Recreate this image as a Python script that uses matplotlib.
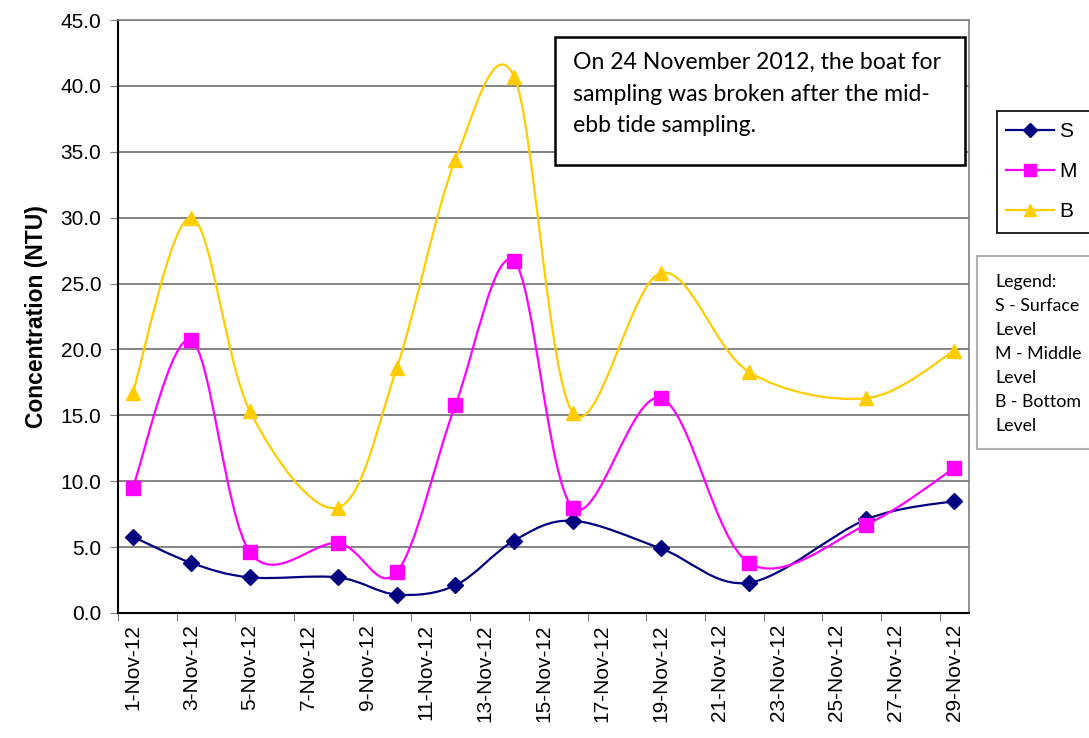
import numpy as np
import pandas as pd
import matplotlib
matplotlib.use("Agg")
import matplotlib.pyplot as plt
import matplotlib.dates as mdates
from matplotlib.patches import Rectangle
from matplotlib.path import Path
from matplotlib.patches import PathPatch

# ---- data ----
dates = ["1-Nov-12", "3-Nov-12", "5-Nov-12", "8-Nov-12", "10-Nov-12", "12-Nov-12",
         "14-Nov-12", "16-Nov-12", "19-Nov-12", "22-Nov-12", "26-Nov-12", "29-Nov-12"]
surface = [5.8, 3.8, 2.7, 2.7, 1.4, 2.1, 5.5, 7.0, 4.9, 2.3, 7.1, 8.5]
middle = [9.5, 20.7, 4.6, 5.3, 3.1, 15.8, 26.7, 8.0, 16.3, 3.8, 6.7, 11.0]
bottom = [16.7, 30.0, 15.3, 8.0, 18.6, 34.4, 40.7, 15.2, 25.8, 18.3, 16.3, 19.9]
series_names = ["S", "M", "B"]
y_ticks = [0, 5, 10, 15, 20, 25, 30, 35, 40, 45]
note = "On 24 November 2012, the boat for\nsampling was broken after the mid-\nebb tide sampling."
legend_note = ["Legend:", "S - Surface", "Level", "M - Middle", "Level", "B - Bottom", "Level"]

colors = ["#000080", "#FF00FF", "#FFCC00"]
markers = ["D", "s", "^"]
msizes = [8, 9.5, 10]

x = mdates.date2num(pd.to_datetime(dates, format="%d-%b-%y"))

fig = plt.figure(figsize=(10.89, 7.38), dpi=100)
ax = fig.add_axes([118/1089, 1-613/738, (969-118)/1089, (613-20)/738])

def smooth_path(xs, ys):
    xs = np.asarray(xs, float); ys = np.asarray(ys, float)
    n = len(xs)
    verts = [(xs[0], ys[0])]
    codes = [Path.MOVETO]
    for i in range(n-1):
        p0 = np.array([xs[max(i-1, 0)], ys[max(i-1, 0)]])
        p1 = np.array([xs[i], ys[i]])
        p2 = np.array([xs[i+1], ys[i+1]])
        p3 = np.array([xs[min(i+2, n-1)], ys[min(i+2, n-1)]])
        c1 = p1 + (p2 - p0) / 6.0
        c2 = p2 - (p3 - p1) / 6.0
        verts += [tuple(c1), tuple(c2), tuple(p2)]
        codes += [Path.CURVE4] * 3
    return Path(verts, codes)

handles = []
for vals, c, m, ms, name in zip([surface, middle, bottom], colors, markers, msizes, series_names):
    pp = PathPatch(smooth_path(x, vals), facecolor="none", edgecolor=c, lw=1.6, zorder=3)
    ax.add_patch(pp)
    ax.plot(x, vals, linestyle="none", marker=m, ms=ms, color=c, zorder=4)
    h, = ax.plot([], [], color=c, lw=1.6, marker=m, ms=ms * 0.85, label=name)
    handles.append(h)

x0 = mdates.date2num(pd.Timestamp("2012-11-01"))
ax.set_xlim(x0 - 0.5, x0 + 28.5)
ax.set_ylim(0, 45)
ax.set_yticks(y_ticks)
ax.set_yticklabels([f"{v:.1f}" for v in y_ticks])
ax.yaxis.grid(True, color="#707070", lw=1.2)
ax.set_axisbelow(True)

# major ticks (marks only) at slot boundaries, minor ticks carry labels
ax.set_xticks(x0 - 0.5 + 2 * np.arange(15))
ax.set_xticklabels([])
lab_pos = x0 + 2 * np.arange(15)
ax.set_xticks(lab_pos, minor=True)
ax.set_xticklabels([pd.Timestamp(mdates.num2date(v)).strftime("%-d-%b-%y") for v in lab_pos],
                   minor=True, rotation=90)
ax.tick_params(axis="x", which="minor", length=0, pad=8)
ax.tick_params(axis="x", which="major", length=6, color="#7f7f7f")
ax.tick_params(axis="y", length=6, color="#7f7f7f", pad=6)
for lab in ax.get_xticklabels(minor=True) + ax.get_yticklabels():
    lab.set_fontfamily("Liberation Sans")
    lab.set_fontsize(15)

for s in ["left", "bottom"]:
    ax.spines[s].set_color("black"); ax.spines[s].set_linewidth(1.5)
for s in ["top", "right"]:
    ax.spines[s].set_color("#7f7f7f"); ax.spines[s].set_linewidth(1.2)

ax.set_ylabel("Concentration (NTU)", fontfamily="Liberation Sans", fontsize=16.5,
              fontweight="bold", labelpad=9)

# annotation box
fig.patches.append(Rectangle((555/1089, 1-165/738), 410/1089, 128/738, transform=fig.transFigure,
                             facecolor="white", edgecolor="black", lw=1.8, zorder=5))
fig.text(573/1089, 1-52/738, note, fontfamily="Lato", fontsize=16.6, va="top", ha="left",
         linespacing=1.62, zorder=6)

# series legend
fig.patches.append(Rectangle((997/1089, 1-233/738), 120/1089, 122/738, transform=fig.transFigure,
                             facecolor="white", edgecolor="black", lw=1.2, zorder=5))
leg = fig.legend(handles=handles, loc="upper left", bbox_to_anchor=(1002/1089, 1-118/738),
                 frameon=False, prop={"family": "Liberation Sans", "size": 15},
                 handlelength=2.3, handletextpad=0.25, labelspacing=1.0, borderpad=0.2,
                 borderaxespad=0.0)

# text legend box
fig.patches.append(Rectangle((977/1089, 1-449/738), 130/1089, 193/738, transform=fig.transFigure,
                             facecolor="white", edgecolor="#b0b0b0", lw=1.5, zorder=5))
for i, t in enumerate(legend_note):
    fig.text(995/1089, 1-(282 + i * 24.0)/738, t, fontfamily="Lato", fontsize=12.8,
             va="center", ha="left", zorder=6)

fig.savefig("out.png", dpi=100)
